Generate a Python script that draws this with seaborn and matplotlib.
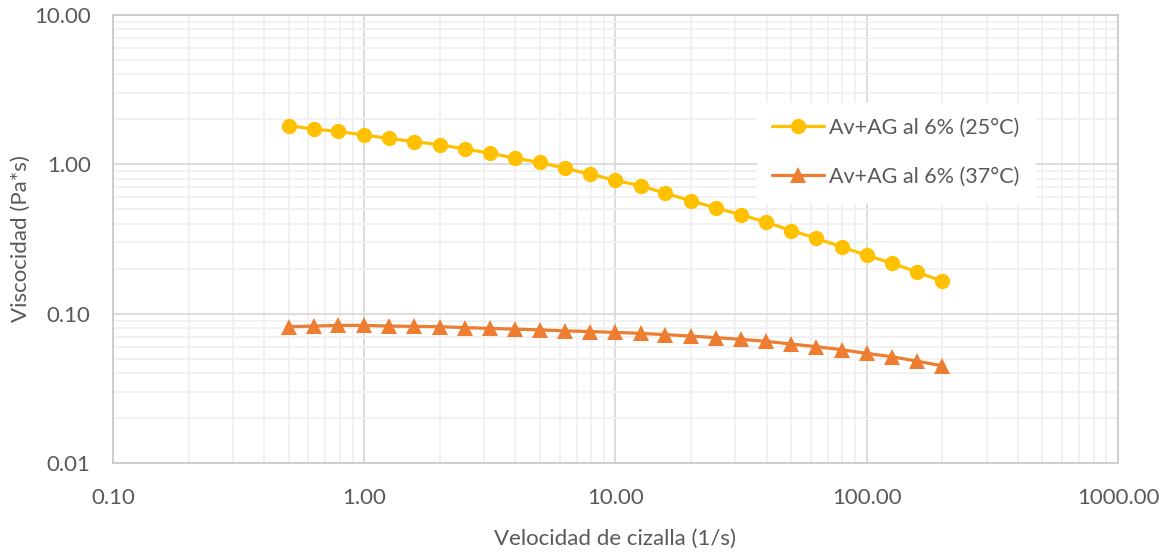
import numpy as np
import pandas as pd
import matplotlib
matplotlib.use("Agg")
import matplotlib.pyplot as plt
import matplotlib.ticker as mticker
import seaborn as sns

# shear rate (1/s)
shear_rate = [0.50, 0.63, 0.79, 1.00, 1.26, 1.58, 2.00, 2.51, 3.16, 3.98,
              5.01, 6.31, 7.94, 10.0, 12.6, 15.8, 20.0, 25.1, 31.6, 39.8,
              50.1, 63.1, 79.4, 100.0, 125.9, 158.5, 199.5]
# viscosity (Pa*s)
visc_25 = [1.82, 1.72, 1.66, 1.57, 1.49, 1.42, 1.35, 1.27, 1.19, 1.10,
           1.03, 0.94, 0.86, 0.78, 0.72, 0.64, 0.57, 0.51, 0.46, 0.41,
           0.36, 0.32, 0.28, 0.246, 0.218, 0.190, 0.165]
visc_37 = [0.0818, 0.0826, 0.0835, 0.0835, 0.0826, 0.0822, 0.0818, 0.0807, 0.0797, 0.0788,
           0.0779, 0.0767, 0.0759, 0.0749, 0.0738, 0.0724, 0.0708, 0.0691, 0.0673, 0.0653,
           0.0626, 0.0601, 0.0574, 0.0542, 0.0515, 0.0481, 0.0448]
labels = ["Av+AG al 6% (25°C)", "Av+AG al 6% (37°C)"]
colors = ["#FFC000", "#ED7D31"]

df = pd.DataFrame({
    "x": shear_rate * 2,
    "y": visc_25 + visc_37,
    "serie": [labels[0]] * len(shear_rate) + [labels[1]] * len(shear_rate),
})

sns.set_style("white")
plt.rcParams["font.family"] = ["Lato", "DejaVu Sans"]
text_col = "#595959"

fig = plt.figure(figsize=(11.67, 5.52), dpi=100)
ax = fig.add_axes([0.0968, 0.1612, 0.8612, 0.8116])

sns.lineplot(data=df, x="x", y="y", hue="serie", style="serie",
             palette=dict(zip(labels, colors)),
             markers={labels[0]: "o", labels[1]: "^"}, dashes=False,
             linewidth=2.3, markersize=11, markeredgewidth=0, ax=ax)

ax.set_xscale("log")
ax.set_yscale("log")
ax.set_xlim(0.1, 1000)
ax.set_ylim(0.01, 10)

for axis in (ax.xaxis, ax.yaxis):
    axis.set_major_locator(mticker.LogLocator(base=10, numticks=10))
    axis.set_minor_locator(mticker.LogLocator(base=10, subs=np.arange(2, 10), numticks=20))
    axis.set_major_formatter(mticker.FormatStrFormatter("%.2f"))
    axis.set_minor_formatter(mticker.NullFormatter())

ax.grid(which="minor", color="#f0f0f0", linewidth=1.3)
ax.grid(which="major", color="#d9d9d9", linewidth=1.3)
ax.set_axisbelow(True)
for sp in ax.spines.values():
    sp.set_color("#c8c8c8")
    sp.set_linewidth(1.2)

ax.tick_params(which="both", length=0, labelsize=16, colors=text_col)
ax.tick_params(axis="x", pad=18)
ax.tick_params(axis="y", pad=16)

ax.set_xlabel("Velocidad de cizalla (1/s)", fontsize=16, color=text_col, labelpad=15)
ax.set_ylabel("Viscocidad (Pa*s)", fontsize=16, color=text_col, labelpad=2)

handles, labs = ax.get_legend_handles_labels()
leg = ax.legend(handles, labs, loc="upper left", bbox_to_anchor=(0.641, 0.804),
                borderaxespad=0, frameon=True, facecolor="white", edgecolor="white",
                framealpha=1, fancybox=False, fontsize=15.5, handlelength=2.4,
                handletextpad=0.25, labelspacing=1.35, borderpad=0.7)
for t in leg.get_texts():
    t.set_color(text_col)

fig.savefig("out.png", dpi=100)
